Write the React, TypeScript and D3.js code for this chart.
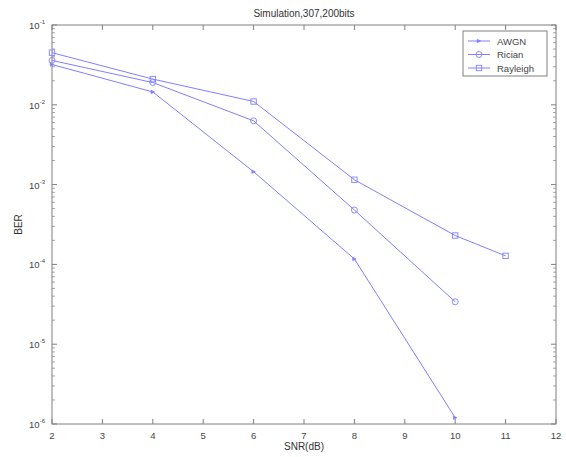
import * as d3 from 'd3'

const snrAwgn = [2, 4, 6, 8, 10]
const berAwgn = [0.032, 0.0145, 0.00145, 0.000117, 0.0000012]
const snrRician = [2, 4, 6, 8, 10]
const berRician = [0.036, 0.019, 0.0063, 0.00048, 0.000034]
const snrRayleigh = [2, 4, 6, 8, 10, 11]
const berRayleigh = [0.045, 0.021, 0.011, 0.00115, 0.00023, 0.000128]
const xTicks = [2, 3, 4, 5, 6, 7, 8, 9, 10, 11, 12]
const yDecades = [-1, -2, -3, -4, -5, -6]
const seriesNames = ['AWGN', 'Rician', 'Rayleigh']

const width = 566
const height = 457
const left = 52
const right = 556
const top = 25
const bottom = 424
const lineColor = '#8080ff'
const axisColor = '#808080'
const font = 'Liberation Sans, Arial, sans-serif'

const x = d3.scaleLinear().domain([2, 12]).range([left, right])
const y = d3.scaleLog().domain([1e-6, 1e-1]).range([bottom, top])

const line = d3
  .line<[number, number]>()
  .x((d) => x(d[0]))
  .y((d) => y(d[1]))

function Marker({ kind, cx, cy }: { kind: string; cx: number; cy: number }) {
  if (kind === 'AWGN') {
    return <path d={`M${cx - 1.8},${cy - 1.8}L${cx + 1.8},${cy}L${cx - 1.8},${cy + 1.8}Z`} fill={lineColor} stroke={lineColor} strokeWidth={0.6} />
  }
  if (kind === 'Rician') {
    return <circle cx={cx} cy={cy} r={3} fill="none" stroke={lineColor} strokeWidth={0.9} />
  }
  return <rect x={cx - 2.7} y={cy - 2.7} width={5.4} height={5.4} fill="none" stroke={lineColor} strokeWidth={0.9} />
}

function App() {
  const series = [
    { name: 'AWGN', pts: snrAwgn.map((s, i) => [s, berAwgn[i]] as [number, number]) },
    { name: 'Rician', pts: snrRician.map((s, i) => [s, berRician[i]] as [number, number]) },
    { name: 'Rayleigh', pts: snrRayleigh.map((s, i) => [s, berRayleigh[i]] as [number, number]) },
  ]

  // minor ticks for the log axis
  const minor: number[] = []
  yDecades.slice(1).forEach((e) => {
    for (let k = 2; k <= 9; k++) minor.push(k * Math.pow(10, e))
  })

  return (
    <svg width={width} height={height} style={{ position: 'absolute', left: 0, top: 0 }}>
      <rect width={width} height={height} fill="#fff" />
      <text x={(left + right) / 2} y={17} textAnchor="middle" fontSize={10} fontFamily={font} fill="#333">
        Simulation,307,200bits
      </text>

      {/* axes box */}
      <rect x={left} y={top} width={right - left} height={bottom - top} fill="none" stroke={axisColor} strokeWidth={1} />

      {xTicks.map((t) => (
        <g key={t}>
          <line x1={x(t)} x2={x(t)} y1={bottom} y2={bottom - 5} stroke={axisColor} />
          <line x1={x(t)} x2={x(t)} y1={top} y2={top + 5} stroke={axisColor} />
          <text x={x(t)} y={bottom + 15} textAnchor="middle" fontSize={9.5} fontFamily={font} fill="#444">
            {t}
          </text>
        </g>
      ))}

      {yDecades.map((e) => (
        <g key={e}>
          <line x1={left} x2={left + 5} y1={y(Math.pow(10, e))} y2={y(Math.pow(10, e))} stroke={axisColor} />
          <line x1={right} x2={right - 5} y1={y(Math.pow(10, e))} y2={y(Math.pow(10, e))} stroke={axisColor} />
          <text x={left - 7} y={y(Math.pow(10, e)) + 4} textAnchor="end" fontSize={9.5} fontFamily={font} fill="#444">
            10
            <tspan dy={-5} fontSize={6}>
              {e}
            </tspan>
          </text>
        </g>
      ))}
      {minor.map((v, i) => (
        <g key={i}>
          <line x1={left} x2={left + 3} y1={y(v)} y2={y(v)} stroke={axisColor} strokeWidth={0.7} />
          <line x1={right} x2={right - 3} y1={y(v)} y2={y(v)} stroke={axisColor} strokeWidth={0.7} />
        </g>
      ))}

      <text x={(left + right) / 2} y={450} textAnchor="middle" fontSize={10} fontFamily={font} fill="#333">
        SNR(dB)
      </text>
      <text
        transform={`translate(22,${(top + bottom) / 2}) rotate(-90)`}
        textAnchor="middle"
        fontSize={10}
        fontFamily={font}
        fill="#333"
      >
        BER
      </text>

      {series.map((s) => (
        <g key={s.name}>
          <path d={line(s.pts) ?? ''} fill="none" stroke={lineColor} strokeWidth={1} />
          {s.pts.map((p, i) => (
            <Marker key={i} kind={s.name} cx={x(p[0])} cy={y(p[1])} />
          ))}
        </g>
      ))}

      {/* legend */}
      <rect x={463} y={31} width={84} height={45} fill="#fff" stroke={axisColor} strokeWidth={1} />
      {seriesNames.map((n, i) => {
        const ly = 41 + i * 13.5
        return (
          <g key={n}>
            <line x1={468} x2={490} y1={ly} y2={ly} stroke={lineColor} />
            <Marker kind={n} cx={479} cy={ly} />
            <text x={497} y={ly + 3.5} fontSize={9.5} fontFamily={font} fill="#444">
              {n}
            </text>
          </g>
        )
      })}
    </svg>
  )
}

export default App
